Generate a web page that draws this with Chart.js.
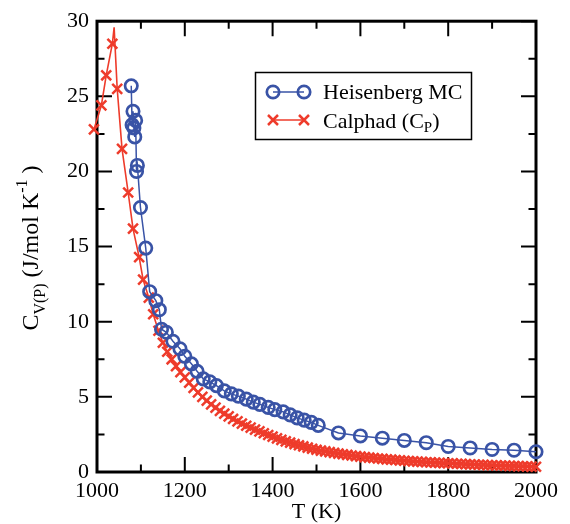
<!DOCTYPE html>
<html>
<head>
<meta charset="utf-8">
<script src="https://cdn.jsdelivr.net/npm/chart.js@4.4.0/dist/chart.umd.min.js"></script>
<style>
  html, body { margin: 0; padding: 0; background: #fff; }
  #wrap { width: 570px; height: 524px; }
</style>
</head>
<body>
<div id="wrap"><canvas id="c" width="570" height="524"></canvas></div>
<script>
// Heisenberg Monte Carlo heat capacity C_V (J/mol K^-1) versus temperature T (K)
const heisenbergT = [1078, 1080, 1082, 1084, 1086, 1088, 1090, 1092, 1099, 1111, 1120, 1134, 1142, 1147, 1158,
  1173, 1189, 1200, 1215, 1228, 1242, 1257, 1272, 1290, 1306, 1322, 1340, 1356, 1371, 1390, 1405, 1424,
  1440, 1456, 1472, 1488, 1504, 1550, 1600, 1650, 1700, 1750, 1800, 1850, 1900, 1950, 2000];
const heisenbergC = [25.7, 23.1, 24.0, 22.9, 22.3, 23.4, 20.0, 20.4, 17.6, 14.9, 12.0, 11.4, 10.8, 9.5, 9.3,
  8.7, 8.2, 7.7, 7.2, 6.7, 6.2, 6.0, 5.75, 5.4, 5.2, 5.05, 4.85, 4.65, 4.5, 4.3, 4.15, 4.0,
  3.8, 3.6, 3.45, 3.3, 3.1, 2.6, 2.4, 2.25, 2.1, 1.95, 1.7, 1.6, 1.5, 1.45, 1.35];

// Calphad magnetic heat capacity C_P (J/mol K^-1) versus temperature T (K)
const calphadT = [993, 1010, 1021, 1035, 1039, 1046, 1057, 1071, 1082, 1096, 1105, 1118, 1128, 1140,
  1150, 1160, 1170, 1180, 1190, 1200, 1210, 1220, 1230, 1240, 1250, 1260, 1270, 1280, 1290,
  1300, 1310, 1320, 1330, 1340, 1350, 1360, 1370, 1380, 1390, 1400, 1410, 1420, 1430, 1440,
  1450, 1460, 1470, 1480, 1490, 1500, 1510, 1520, 1530, 1540, 1550, 1560, 1570, 1580, 1590,
  1600, 1610, 1620, 1630, 1640, 1650, 1660, 1670, 1680, 1690, 1700, 1710, 1720, 1730, 1740,
  1750, 1760, 1770, 1780, 1790, 1800, 1810, 1820, 1830, 1840, 1850, 1860, 1870, 1880, 1890,
  1900, 1910, 1920, 1930, 1940, 1950, 1960, 1970, 1980, 1990, 2000];
const calphadC = [22.8, 24.4, 26.4, 28.5, 29.6, 25.5, 21.5, 18.6, 16.2, 14.3, 12.8, 11.6, 10.5, 9.4,
  8.6, 8.0, 7.5, 7.05, 6.65, 6.3, 5.95, 5.6, 5.3, 5.0, 4.75, 4.5, 4.28, 4.07, 3.88,
  3.7, 3.53, 3.37, 3.22, 3.08, 2.95, 2.82, 2.7, 2.58, 2.46, 2.35, 2.24, 2.14, 2.04, 1.95,
  1.86, 1.78, 1.7, 1.62, 1.55, 1.48, 1.42, 1.37, 1.32, 1.27, 1.22, 1.18, 1.14, 1.1, 1.06,
  1.02, 0.99, 0.96, 0.93, 0.9, 0.87, 0.84, 0.82, 0.8, 0.77, 0.75, 0.73, 0.71, 0.69, 0.67,
  0.65, 0.64, 0.62, 0.61, 0.59, 0.58, 0.57, 0.55, 0.54, 0.52, 0.51, 0.5, 0.48, 0.47, 0.46,
  0.45, 0.44, 0.43, 0.42, 0.41, 0.4, 0.39, 0.38, 0.37, 0.36, 0.35];

// Labelled (major) ticks; the axes also carry unlabelled minor ticks halfway between
const xTickLabels = [1000, 1200, 1400, 1600, 1800, 2000];
const yTickLabels = [0, 5, 10, 15, 20, 25, 30];

const BLUE = '#3953a6';
const RED = '#ee3b2b';
const SERIF = "'Liberation Serif', 'DejaVu Serif', serif";

const toPoints = (xs, ys) => xs.map((x, i) => ({ x, y: ys[i] }));
const peakC = Math.max(...calphadC);

// Draws a run of text pieces, some raised or lowered, starting at (x, y) on the baseline
function richWidth(ctx, parts) {
  let w = 0;
  for (const p of parts) { ctx.font = p.size + 'px ' + SERIF; w += ctx.measureText(p.t).width; }
  return w;
}
function drawRich(ctx, parts, x, y) {
  for (const p of parts) {
    ctx.font = p.size + 'px ' + SERIF;
    ctx.fillText(p.t, x, y + (p.dy || 0));
    x += ctx.measureText(p.t).width;
  }
}

// Box frame with inward major/minor ticks on all four sides
const frameTicks = {
  id: 'frameTicks',
  beforeDatasetsDraw(chart) {
    const { ctx, chartArea: a, scales: { x, y } } = chart;
    ctx.save();
    ctx.strokeStyle = '#000';
    ctx.lineWidth = 2;
    ctx.beginPath();
    x.ticks.forEach(t => {
      const px = x.getPixelForValue(t.value);
      const len = xTickLabels.includes(t.value) ? 15 : 7.5;
      ctx.moveTo(px, a.bottom); ctx.lineTo(px, a.bottom - len);
      ctx.moveTo(px, a.top); ctx.lineTo(px, a.top + len);
    });
    y.ticks.forEach(t => {
      const py = y.getPixelForValue(t.value);
      const len = yTickLabels.includes(t.value) ? 15 : 7.5;
      ctx.moveTo(a.left, py); ctx.lineTo(a.left + len, py);
      ctx.moveTo(a.right, py); ctx.lineTo(a.right - len, py);
    });
    ctx.stroke();
    ctx.lineWidth = 3;
    ctx.strokeRect(a.left, a.top, a.right - a.left, a.bottom - a.top);
    ctx.restore();
  }
};

// Axis titles with sub/superscripts
const axisTitles = {
  id: 'axisTitles',
  afterDraw(chart) {
    const { ctx, chartArea: a } = chart;
    ctx.save();
    ctx.fillStyle = '#000';
    ctx.textBaseline = 'alphabetic';
    ctx.textAlign = 'left';

    const xt = [{ t: 'T (K)', size: 22 }];
    const xw = richWidth(ctx, xt);
    drawRich(ctx, xt, (a.left + a.right) / 2 - xw / 2, 518);

    const yt = [
      { t: 'C', size: 24 },
      { t: 'V(P)', size: 16, dy: 7 },
      { t: ' (J/mol K', size: 24 },
      { t: '-1', size: 16, dy: -11 },
      { t: ' )', size: 24 }
    ];
    const yw = richWidth(ctx, yt);
    ctx.translate(38, 248);
    ctx.rotate(-Math.PI / 2);
    drawRich(ctx, yt, -yw / 2, 0);
    ctx.restore();
  }
};

// Legend box: each row shows a short line with a marker at both ends
const legendBox = {
  id: 'legendBox',
  afterDraw(chart) {
    const { ctx } = chart;
    ctx.save();
    ctx.strokeStyle = '#000';
    ctx.lineWidth = 1.5;
    ctx.strokeRect(255.5, 72.5, 216, 67);

    const x0 = 273, x1 = 304;
    // Heisenberg MC row
    let yy = 92;
    ctx.strokeStyle = BLUE;
    ctx.lineWidth = 1.5;
    ctx.beginPath(); ctx.moveTo(x0, yy); ctx.lineTo(x1, yy); ctx.stroke();
    ctx.lineWidth = 2.7;
    [x0, x1].forEach(cx => { ctx.beginPath(); ctx.arc(cx, yy, 6.2, 0, Math.PI * 2); ctx.stroke(); });

    // Calphad row
    yy = 120;
    ctx.strokeStyle = RED;
    ctx.lineWidth = 1.5;
    ctx.beginPath(); ctx.moveTo(x0, yy); ctx.lineTo(x1, yy); ctx.stroke();
    ctx.lineWidth = 2.5;
    const r = 5;
    [x0, x1].forEach(cx => {
      ctx.beginPath();
      ctx.moveTo(cx - r, yy - r); ctx.lineTo(cx + r, yy + r);
      ctx.moveTo(cx + r, yy - r); ctx.lineTo(cx - r, yy + r);
      ctx.stroke();
    });

    ctx.fillStyle = '#000';
    ctx.textBaseline = 'alphabetic';
    drawRich(ctx, [{ t: 'Heisenberg MC', size: 22 }], 323, 99);
    drawRich(ctx, [
      { t: 'Calphad (C', size: 22 },
      { t: 'P', size: 15, dy: 4 },
      { t: ')', size: 22 }
    ], 323, 128);
    ctx.restore();
  }
};

new Chart(document.getElementById('c'), {
  type: 'scatter',
  data: {
    datasets: [
      {
        label: 'Heisenberg MC',
        data: toPoints(heisenbergT, heisenbergC),
        showLine: true,
        borderColor: BLUE,
        borderWidth: 1.5,
        pointStyle: 'circle',
        pointRadius: 6.2,
        pointBorderWidth: 2.7,
        pointBorderColor: BLUE,
        pointBackgroundColor: 'rgba(0,0,0,0)',
        clip: false,
        order: 1
      },
      {
        label: 'Calphad (CP)',
        data: toPoints(calphadT, calphadC),
        showLine: true,
        borderColor: RED,
        borderWidth: 1.6,
        pointStyle: 'crossRot',
        // the lambda-peak vertex of the curve carries no marker
        pointRadius: c => (c.raw && c.raw.y === peakC ? 0 : 7),
        pointBorderWidth: 2.5,
        pointBorderColor: RED,
        clip: false,
        order: 2
      }
    ]
  },
  options: {
    responsive: false,
    animation: false,
    events: [],
    layout: { padding: { left: 0, right: 34, top: 18, bottom: 0 } },
    plugins: { legend: { display: false }, tooltip: { enabled: false } },
    scales: {
      x: {
        type: 'linear',
        min: 1000, max: 2000,
        grid: { display: false, drawTicks: false },
        border: { display: false },
        ticks: {
          stepSize: 100,
          autoSkip: false,
          maxRotation: 0,
          padding: 6,
          color: '#000',
          font: { family: SERIF, size: 22 },
          callback: v => (xTickLabels.includes(v) ? String(v) : '')
        },
        afterFit: s => { s.height = 52; }
      },
      y: {
        type: 'linear',
        min: 0, max: 30,
        grid: { display: false, drawTicks: false },
        border: { display: false },
        ticks: {
          stepSize: 2.5,
          autoSkip: false,
          padding: 8,
          color: '#000',
          font: { family: SERIF, size: 22 },
          callback: v => (yTickLabels.includes(v) ? String(v) : '')
        },
        afterFit: s => { s.width = 97; }
      }
    }
  },
  plugins: [frameTicks, axisTitles, legendBox]
});
</script>
</body>
</html>
